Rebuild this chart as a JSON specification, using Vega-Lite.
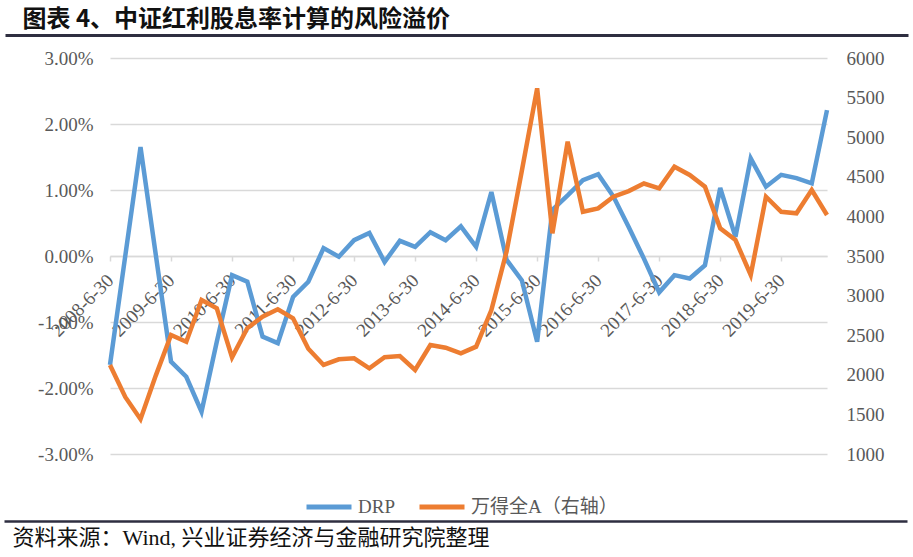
{
  "$schema": "https://vega.github.io/schema/vega-lite/v6.json",
  "width": 717,
  "height": 396,
  "autosize": {"type": "none"},
  "padding": {"left": 110, "top": 58, "right": 86, "bottom": 103},
  "background": "white",
  "config": {"view": {"stroke": null}, "font": "Liberation Serif"},
  "data": {"values": [
    {"date": "2008-6-30", "DRP": -0.0165, "wind": 2124},
    {"date": "2008-9-30", "DRP": 0.0000, "wind": 1720},
    {"date": "2008-12-31", "DRP": 0.0165, "wind": 1440},
    {"date": "2009-3-31", "DRP": 0.0002, "wind": 1990},
    {"date": "2009-6-30", "DRP": -0.0160, "wind": 2503},
    {"date": "2009-9-30", "DRP": -0.0183, "wind": 2418},
    {"date": "2009-12-31", "DRP": -0.0236, "wind": 2944},
    {"date": "2010-3-31", "DRP": -0.0130, "wind": 2840},
    {"date": "2010-6-30", "DRP": -0.0029, "wind": 2220},
    {"date": "2010-9-30", "DRP": -0.0039, "wind": 2587},
    {"date": "2010-12-31", "DRP": -0.0122, "wind": 2734},
    {"date": "2011-3-31", "DRP": -0.0132, "wind": 2827},
    {"date": "2011-6-30", "DRP": -0.0062, "wind": 2713},
    {"date": "2011-9-30", "DRP": -0.0039, "wind": 2330},
    {"date": "2011-12-31", "DRP": 0.0012, "wind": 2124},
    {"date": "2012-3-31", "DRP": -0.0001, "wind": 2196},
    {"date": "2012-6-30", "DRP": 0.0024, "wind": 2208},
    {"date": "2012-9-30", "DRP": 0.0035, "wind": 2082},
    {"date": "2012-12-31", "DRP": -0.0009, "wind": 2221},
    {"date": "2013-3-31", "DRP": 0.0023, "wind": 2237},
    {"date": "2013-6-30", "DRP": 0.0014, "wind": 2061},
    {"date": "2013-9-30", "DRP": 0.0036, "wind": 2376},
    {"date": "2013-12-31", "DRP": 0.0024, "wind": 2342},
    {"date": "2014-3-31", "DRP": 0.0045, "wind": 2271},
    {"date": "2014-6-30", "DRP": 0.0014, "wind": 2355},
    {"date": "2014-9-30", "DRP": 0.0097, "wind": 2818},
    {"date": "2014-12-31", "DRP": -0.0006, "wind": 3560},
    {"date": "2015-3-31", "DRP": -0.0037, "wind": 4580},
    {"date": "2015-6-30", "DRP": -0.0130, "wind": 5617},
    {"date": "2015-9-30", "DRP": 0.0070, "wind": 3787},
    {"date": "2015-12-31", "DRP": 0.0092, "wind": 4943},
    {"date": "2016-3-31", "DRP": 0.0115, "wind": 4059},
    {"date": "2016-6-30", "DRP": 0.0124, "wind": 4102},
    {"date": "2016-9-30", "DRP": 0.0090, "wind": 4249},
    {"date": "2016-12-31", "DRP": 0.0044, "wind": 4320},
    {"date": "2017-3-31", "DRP": -0.0004, "wind": 4415},
    {"date": "2017-6-30", "DRP": -0.0055, "wind": 4355},
    {"date": "2017-9-30", "DRP": -0.0029, "wind": 4628},
    {"date": "2017-12-31", "DRP": -0.0034, "wind": 4523},
    {"date": "2018-3-31", "DRP": -0.0014, "wind": 4375},
    {"date": "2018-6-30", "DRP": 0.0103, "wind": 3850},
    {"date": "2018-9-30", "DRP": 0.0029, "wind": 3702},
    {"date": "2018-12-31", "DRP": 0.0148, "wind": 3260},
    {"date": "2019-3-31", "DRP": 0.0105, "wind": 4249},
    {"date": "2019-6-30", "DRP": 0.0123, "wind": 4059},
    {"date": "2019-9-30", "DRP": 0.0118, "wind": 4039},
    {"date": "2019-12-31", "DRP": 0.0110, "wind": 4333},
    {"date": "2020-3-31", "DRP": 0.0221, "wind": 4018}
  ]},
  "layer": [
    {
      "mark": {"type": "line", "strokeWidth": 4.5},
      "encoding": {
        "x": {
          "field": "date", "type": "ordinal", "sort": null,
          "scale": {"type": "point", "padding": 0},
          "axis": {
            "orient": "bottom", "offset": -198, "title": null, "grid": false,
            "values": ["2008-6-30", "2009-6-30", "2010-6-30", "2011-6-30", "2012-6-30", "2013-6-30", "2014-6-30", "2015-6-30", "2016-6-30", "2017-6-30", "2018-6-30", "2019-6-30"],
            "domain": true, "domainColor": "#d9d9d9", "domainWidth": 1.5,
            "ticks": true, "tickColor": "#d9d9d9", "tickWidth": 1.5, "tickSize": 5,
            "labelAngle": -45, "labelAlign": "right", "labelBaseline": "middle",
            "labelPadding": 16, "labelFont": "Liberation Serif", "labelFontSize": 19,
            "labelColor": "#595959", "labelOverlap": false, "labelBound": false
          }
        },
        "y": {
          "field": "DRP", "type": "quantitative",
          "scale": {"domain": [-0.03, 0.03], "nice": false},
          "axis": {
            "orient": "left", "title": null,
            "values": [-0.03, -0.02, -0.01, 0, 0.01, 0.02, 0.03],
            "labelExpr": "(datum.value < 0 ? '-' : '') + format(abs(datum.value), '.2%')",
            "grid": true, "gridColor": "#d9d9d9", "gridWidth": 1.5,
            "domain": false, "ticks": false, "labelPadding": 17,
            "labelFont": "Liberation Serif", "labelFontSize": 19, "labelColor": "#595959"
          }
        },
        "color": {
          "datum": "DRP", "type": "nominal",
          "scale": {"domain": ["DRP", "万得全A（右轴）"], "range": ["#5B9BD5", "#ED7D31"]},
          "legend": {
            "orient": "none", "legendX": 194, "legendY": 424, "direction": "horizontal",
            "title": null, "symbolType": "stroke", "symbolSize": 2025, "symbolStrokeWidth": 5,
            "labelFont": "Liberation Serif, Noto Sans CJK SC", "labelFontSize": 19,
            "labelColor": "#595959", "columnPadding": 14, "labelOffset": 4
          }
        }
      }
    },
    {
      "mark": {"type": "line", "strokeWidth": 4.5},
      "encoding": {
        "x": {"field": "date", "type": "ordinal", "sort": null, "scale": {"type": "point", "padding": 0}, "axis": null},
        "y": {
          "field": "wind", "type": "quantitative",
          "scale": {"domain": [1000, 6000], "nice": false},
          "axis": {
            "orient": "right", "title": null,
            "values": [1000, 1500, 2000, 2500, 3000, 3500, 4000, 4500, 5000, 5500, 6000],
            "format": "d", "grid": false, "domain": false, "ticks": false, "labelPadding": 19,
            "labelFont": "Liberation Serif", "labelFontSize": 19, "labelColor": "#595959"
          }
        },
        "color": {"datum": "万得全A（右轴）", "type": "nominal"}
      }
    },
    {
      "mark": {"type": "point", "opacity": 0},
      "encoding": {
        "x": {
          "field": "date", "type": "ordinal", "sort": null,
          "scale": {"type": "point", "padding": 0, "range": [-105, 798]},
          "axis": {
            "orient": "top", "offset": 23, "labels": false, "ticks": false, "grid": false,
            "domain": true, "domainColor": "#2e2e40", "domainWidth": 3,
            "title": "图表 4、中证红利股息率计算的风险溢价",
            "titleFont": "Noto Sans CJK SC", "titleFontSize": 24, "titleFontWeight": "bold",
            "titleColor": "#111111", "titleAnchor": "start", "titleAlign": "left",
            "titleX": -88, "titleY": -9, "titleBaseline": "alphabetic", "titleLimit": 2000
          }
        }
      }
    },
    {
      "mark": {"type": "point", "opacity": 0},
      "encoding": {
        "x": {
          "field": "date", "type": "ordinal", "sort": null,
          "scale": {"type": "point", "padding": 0, "range": [-106, 797]},
          "axis": {
            "orient": "bottom", "offset": 67, "labels": false, "ticks": false, "grid": false,
            "domain": true, "domainColor": "#2e2e40", "domainWidth": 2.5,
            "title": "资料来源：Wind, 兴业证券经济与金融研究院整理",
            "titleFont": "Liberation Serif, Noto Sans CJK SC", "titleFontSize": 22, "titleFontWeight": "normal",
            "titleColor": "#111111", "titleAnchor": "start", "titleAlign": "left",
            "titleX": -98, "titleY": 23, "titleBaseline": "alphabetic", "titleLimit": 2000
          }
        }
      }
    }
  ],
  "resolve": {"scale": {"x": "independent", "y": "independent"}}
}
